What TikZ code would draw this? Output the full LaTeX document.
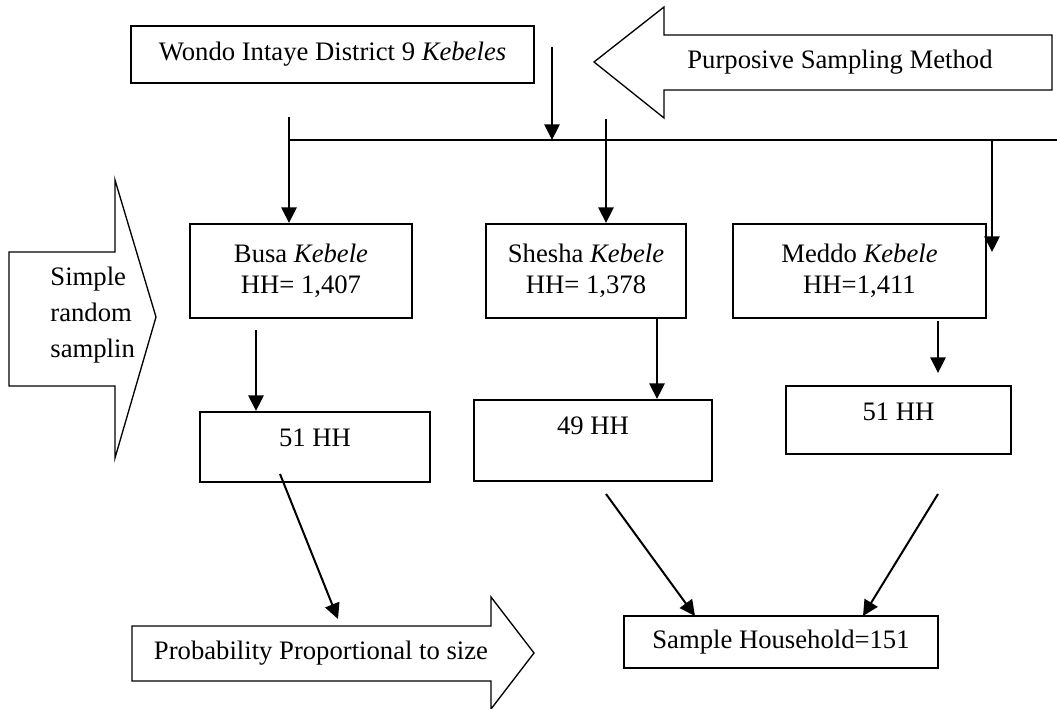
\documentclass[tikz,border=0pt]{standalone}
\usepackage{fontspec}
\setmainfont{Liberation Serif}
\usepackage{tikz}
\usetikzlibrary{calc,positioning,arrows.meta}
\tikzstyle{box} = [rectangle, draw=black, line width=0.9pt, inner sep=0pt, align=center]
\tikzstyle{hhbox} = [box, text height=15.7pt]
\tikzstyle{txt} = [inner sep=0pt]
\tikzstyle{bigarrow} = [draw=black, line width=0.6pt]
\tikzstyle{arrow} = [line width=0.9pt, -{Triangle[width=6.8pt,length=7pt]}]

\begin{document}
\begin{tikzpicture}[x=0.45pt, y=0.45pt, font=\fontsize{12}{14}\selectfont]
      \useasboundingbox (0,0) rectangle (1057,708);
      % top
      \node (wondo) [box, minimum width=181.35pt, minimum height=25.65pt] at (332.5,653.5) {Wondo Intaye District 9 \textit{Kebeles}};
      \draw [bigarrow] (594,646) -- (664,701) -- (664,673) -- (1052,673) -- (1052,618) -- (664,618) -- (664,590) -- cycle;
      \node (purp) [txt] at (840,646) {Purposive Sampling Method};

      % kebeles
      \node (busa) [box, minimum width=99.9pt, minimum height=42.3pt] at (301,437) {Busa \textit{Kebele}\\HH= 1,407};
      \node (shesha) [box, minimum width=90pt, minimum height=42.3pt] at (586,437) {Shesha \textit{Kebele}\\HH= 1,378};
      \node (meddo) [box, minimum width=113.85pt, minimum height=42.3pt] at (859.5,437) {Meddo \textit{Kebele}\\HH=1,411};
      \draw [bigarrow] (9,456) -- (115,456) -- (115,528) -- (156,391) -- (115,250) -- (115,322) -- (9,322) -- cycle;
      \node (srs) [txt, anchor=west, align=left, font=\fontsize{12}{16.2}\selectfont] at (50,393) {Simple\\random\\samplin};

      % households
      \node (hh1) [hhbox, minimum width=103.5pt, text depth=15.8pt] at (315,261) {51 HH};
      \node (hh2) [hhbox, minimum width=107.1pt, text depth=20.75pt] at (593,267.5) {49 HH};
      \node (hh3) [hhbox, minimum width=101.25pt, text depth=14.9pt] at (898.5,288) {51 HH};

      % bottom
      \draw [bigarrow] (132,82) -- (491,82) -- (491,111) -- (534,55) -- (491,-1) -- (491,27) -- (132,27) -- cycle;
      \node (prob) [txt] at (321,55) {Probability Proportional to size};
      \node (sample) [box, minimum width=141.3pt, minimum height=23.4pt] at (781,66) {Sample Household=151};

      % connectors
      \coordinate (bl) at (289,568);
      \coordinate (br) at (1057,568);
      \draw [line width=0.7pt] (bl) -- (br);
      \coordinate (w1) at (552,661);
      \draw [arrow] (w1) -- (w1 |- bl);
      \coordinate (b1) at (289,591);
      \draw [arrow] (b1) -- (b1 |- busa.north);
      \coordinate (s1) at (606,589);
      \draw [arrow] (s1) -- (s1 |- shesha.north);
      \coordinate (m1) at (992,568);
      \coordinate (m2) at (992,456);
      \draw [arrow] (m1) -- (m2);

      \coordinate (b2) at (256,378);
      \draw [arrow] (b2) -- (b2 |- hh1.north);
      \coordinate (s2) at (657,0);
      \draw [arrow] (shesha.south -| s2) -- (hh2.north -| s2);
      \coordinate (m3) at (938,387);
      \coordinate (m4) at (938,335);
      \draw [arrow] (m3) -- (m4);

      \coordinate (d1) at (280,234);
      \coordinate (d2) at (338,89);
      \draw [arrow] (d1) -- (d2);
      \coordinate (d3) at (606,214);
      \coordinate (d4) at (695,92);
      \draw [arrow] (d3) -- (d4);
      \coordinate (d5) at (938,214);
      \coordinate (d6) at (863,92);
      \draw [arrow] (d5) -- (d6);

    \end{tikzpicture}
\end{document}
